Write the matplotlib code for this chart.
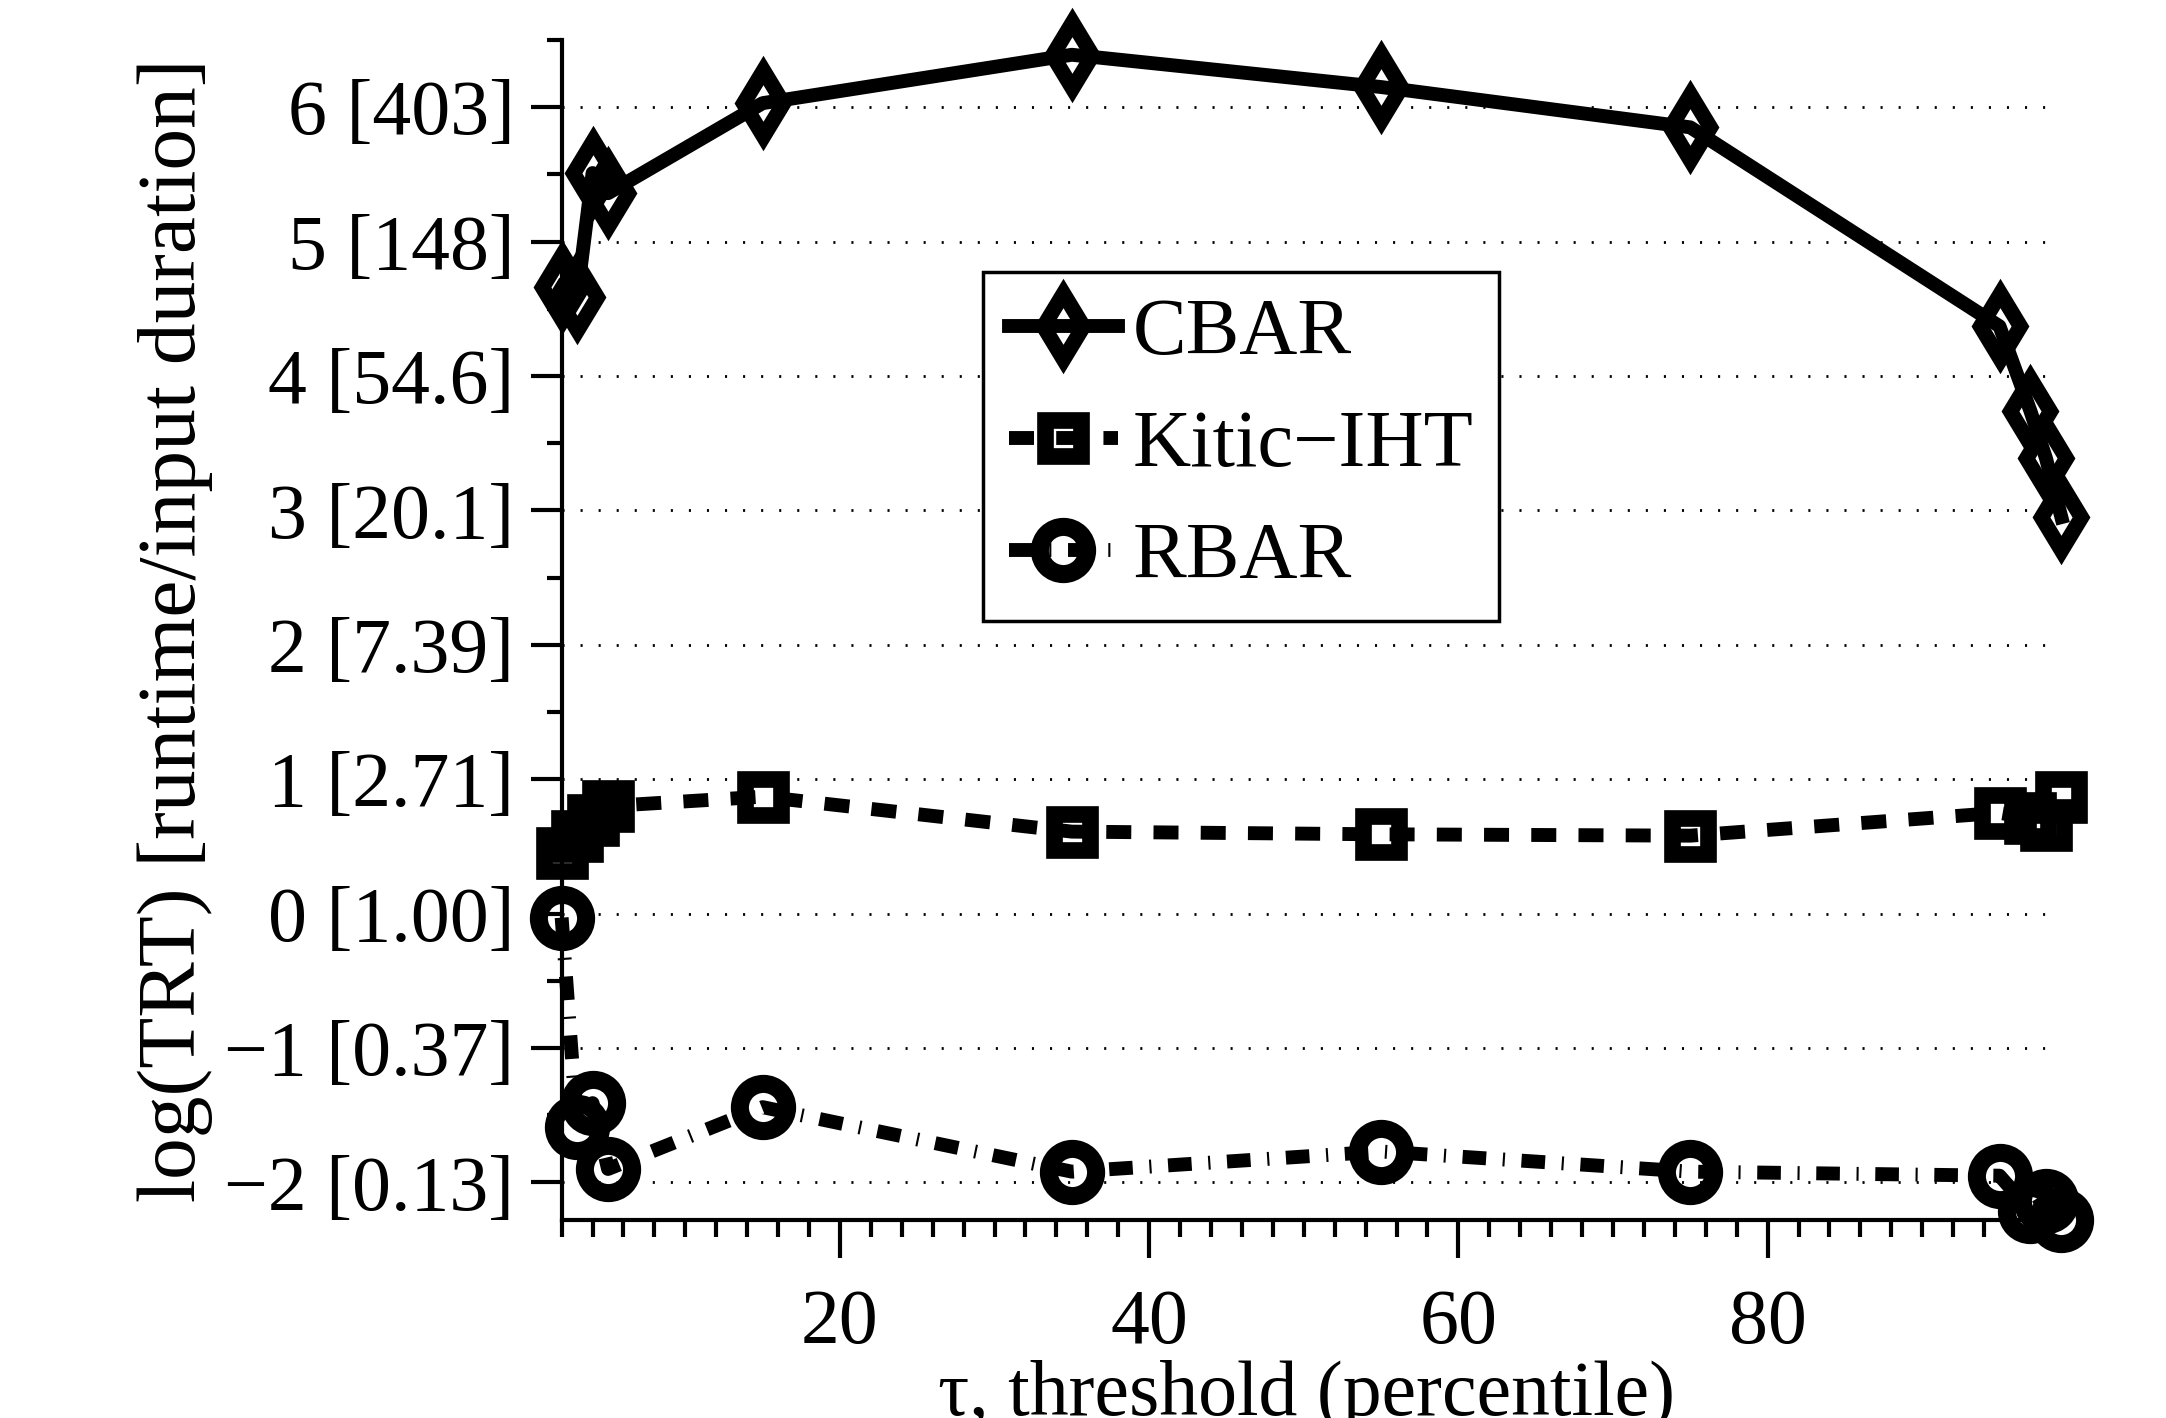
import matplotlib
matplotlib.use('Agg')
import matplotlib.pyplot as plt
from matplotlib.ticker import FixedLocator, MultipleLocator

plt.rcParams['font.family'] = ['Liberation Serif', 'DejaVu Serif']
plt.rcParams['lines.scale_dashes'] = False

# threshold (percentile) at which each method was run
tau = [2, 3, 4, 5, 15, 35, 55, 75, 95, 97, 98, 99]

# log(TRT) values
cbar = [4.66, 4.59, 5.51, 5.36, 6.03, 6.39, 6.15, 5.85, 4.37, 3.74, 3.39, 2.95]
kitic_iht = [0.45, 0.58, 0.70, 0.80, 0.87, 0.61, 0.59, 0.58, 0.75, 0.71, 0.66, 0.865]
rbar = [-0.03, -1.59, -1.41, -1.90, -1.44, -1.92, -1.77, -1.92, -1.95, -2.21, -2.14, -2.28]

y_ticks = [-2, -1, 0, 1, 2, 3, 4, 5, 6]
y_tick_labels = ['\u22122 [0.13]', '\u22121 [0.37]', '0 [1.00]', '1 [2.71]', '2 [7.39]',
                 '3 [20.1]', '4 [54.6]', '5 [148]', '6 [403]']
x_ticks = [20, 40, 60, 80]

fs = 56

fig = plt.figure(figsize=(21.66, 14.18), dpi=100)
ax = fig.add_axes([0.2593, 0.1396, 0.6881, 0.8322])

ax.plot(tau, cbar, color='k', lw=10, ls='-', marker='d', ms=34, mew=11,
        mfc='none', mec='k', clip_on=False, label='CBAR', zorder=4)
ax.plot(tau, kitic_iht, color='k', lw=10, ls=(0, (18, 16)), marker='s', ms=26, mew=12,
        mfc='none', mec='k', clip_on=False, label='Kitic\u2212IHT', zorder=3)
ax.plot(tau, rbar, color='k', lw=10, ls=(0, (17, 12, 1.5, 12)), marker='o', ms=34, mew=13,
        mfc='none', mec='k', clip_on=False, label='RBAR', zorder=3)

ax.set_xlim(2, 98.4)
ax.set_ylim(-2.28, 6.5)

ax.xaxis.set_major_locator(FixedLocator(x_ticks))
ax.xaxis.set_minor_locator(MultipleLocator(2))
ax.yaxis.set_major_locator(FixedLocator(y_ticks))
ax.set_yticklabels(y_tick_labels)
ax.yaxis.set_minor_locator(MultipleLocator(0.5))

ax.spines['top'].set_visible(False)
ax.spines['right'].set_visible(False)
for s in ['left', 'bottom']:
    ax.spines[s].set_linewidth(3)

ax.tick_params(axis='both', which='both', direction='out', width=3, color='k', labelsize=fs)
ax.tick_params(axis='x', which='major', length=27, pad=22)
ax.tick_params(axis='x', which='minor', length=12)
ax.tick_params(axis='y', which='major', length=22, pad=12)
ax.tick_params(axis='y', which='minor', length=11)

ax.yaxis.grid(True, which='major', color='k', lw=2, ls=(0, (1.5, 11.5)))
ax.set_axisbelow(True)

ax.set_xlabel('\u03c4, threshold (percentile)', fontsize=fs, labelpad=0)
ax.set_ylabel('log(TRT) [runtime/input duration]', fontsize=60, labelpad=8)

leg = ax.legend(loc='upper left', bbox_to_anchor=(983 / 2166, 1 - 272 / 1418),
                bbox_transform=fig.transFigure, fontsize=58, frameon=True,
                fancybox=False, edgecolor='k', framealpha=1, borderaxespad=0,
                borderpad=0.32, handlelength=1.35, handletextpad=0.19,
                labelspacing=0.48, numpoints=1)
leg.get_frame().set_linewidth(2.5)

fig.savefig('out.png', dpi=100)
